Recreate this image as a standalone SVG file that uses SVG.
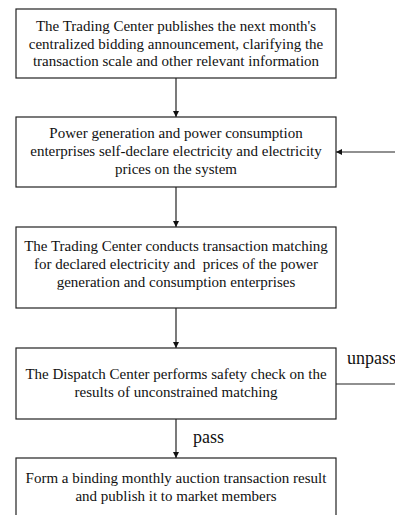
<svg xmlns="http://www.w3.org/2000/svg" width="395" height="515" viewBox="0 0 395 515" font-family="Liberation Serif, DejaVu Serif, serif">
  <style>
    .box { fill: #fff; stroke: #222; stroke-width: 1.2; }
    .txt { font-size: 15px; fill: #111; text-anchor: middle; white-space: pre; }
    .lbl { font-size: 18px; fill: #111; }
    .edge { fill: none; stroke: #222; stroke-width: 1.2; }
  </style>
  <defs>
    <marker id="arrow" viewBox="0 0 8 8" refX="8" refY="4" markerWidth="6" markerHeight="6" markerUnits="userSpaceOnUse" orient="auto">
      <path d="M0,0 L8,4 L0,8 Z" fill="#111"/>
    </marker>
  </defs>
  <rect width="395" height="515" fill="#fff"/>

  <g id="connectors">
    <line class="edge" x1="176" y1="78" x2="176" y2="117" marker-end="url(#arrow)"/>
    <line class="edge" x1="176" y1="187" x2="176" y2="227" marker-end="url(#arrow)"/>
    <line class="edge" x1="176" y1="308" x2="176" y2="348" marker-end="url(#arrow)"/>
    <line class="edge" x1="176" y1="419" x2="176" y2="458" marker-end="url(#arrow)"/>
    <line class="edge" x1="336" y1="384" x2="395" y2="384"/>
    <line class="edge" x1="395" y1="152" x2="336" y2="152" marker-end="url(#arrow)"/>
    <text class="lbl" x="193" y="443">pass</text>
    <text class="lbl" x="347" y="364">unpass</text>
  </g>

  <g id="announce">
    <rect class="box" x="16" y="9" width="320" height="69"/>
    <text class="txt" x="176" y="31">The Trading Center publishes the next month's</text>
    <text class="txt" x="176" y="48.5">centralized bidding announcement, clarifying the</text>
    <text class="txt" x="176" y="66">transaction scale and other relevant information</text>
  </g>

  <g id="declare">
    <rect class="box" x="16" y="117" width="320" height="70"/>
    <text class="txt" x="176" y="138">Power generation and power consumption</text>
    <text class="txt" x="176" y="156">enterprises self-declare electricity and electricity</text>
    <text class="txt" x="176" y="174">prices on the system</text>
  </g>

  <g id="matching">
    <rect class="box" x="16" y="227" width="320" height="81"/>
    <text class="txt" x="176" y="251">The Trading Center conducts transaction matching</text>
    <text class="txt" x="176" y="269">for declared electricity and  prices of the power</text>
    <text class="txt" x="176" y="287">generation and consumption enterprises</text>
  </g>

  <g id="safety-check">
    <rect class="box" x="16" y="348" width="320" height="71"/>
    <text class="txt" x="176" y="379">The Dispatch Center performs safety check on the</text>
    <text class="txt" x="176" y="397">results of unconstrained matching</text>
  </g>

  <g id="publish">
    <rect class="box" x="16" y="458" width="320" height="70"/>
    <text class="txt" x="176" y="483">Form a binding monthly auction transaction result</text>
    <text class="txt" x="176" y="500.5">and publish it to market members</text>
  </g>
</svg>
